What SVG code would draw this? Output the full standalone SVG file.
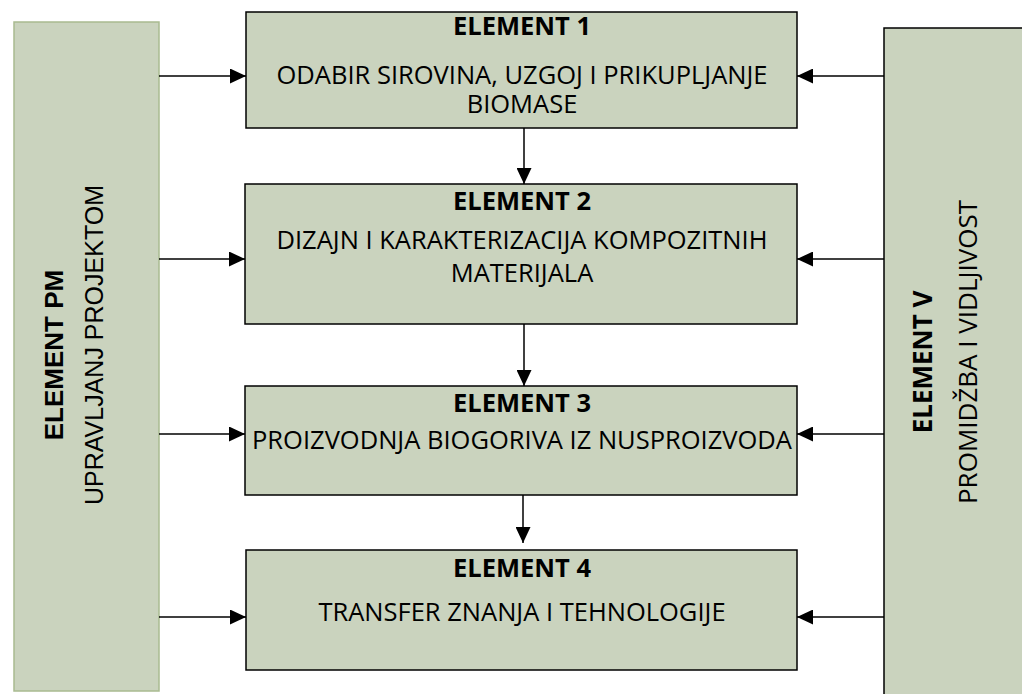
<svg xmlns="http://www.w3.org/2000/svg" width="1022" height="694" viewBox="0 0 1022 694">
<defs>
<marker id="arr" markerUnits="userSpaceOnUse" markerWidth="16" markerHeight="15" refX="16" refY="7.5" orient="auto">
<path d="M0,0 L16,7.5 L0,15 z" fill="#000"/>
</marker>
<style>
.box{fill:#cad3be;stroke:#000;stroke-width:1.5}
.side{fill:#cad3be;stroke:#a9bb90;stroke-width:1.5}
.t{font-family:"Open Sans","Liberation Sans",sans-serif;font-size:25.5px;fill:#000;text-anchor:middle}
.b{font-weight:bold}
.r{font-size:26px}
.a{font-family:"Liberation Sans",Arial,sans-serif;font-size:26px;fill:#000;text-anchor:middle}
.a2{font-size:25px}
.c{stroke:#000;stroke-width:1.5;fill:none;marker-end:url(#arr)}
</style>
</defs>
<rect width="1022" height="694" fill="#fff"/>
<g id="pm">
<rect class="side" x="14" y="22" width="145" height="669"/>
<text class="a b" transform="translate(63,355) rotate(-90)">ELEMENT PM</text>
<text class="a a2" transform="translate(103,345) rotate(-90)">UPRAVLJANJ PROJEKTOM</text>
</g>
<g id="v">
<rect class="box" x="884" y="28" width="150" height="680"/>
<text class="t b r" transform="translate(932,362) rotate(-90)">ELEMENT V</text>
<text class="t r" transform="translate(977,352) rotate(-90)">PROMIDŽBA I VIDLJIVOST</text>
</g>
<g id="e1">
<rect class="box" x="246" y="12" width="551" height="116"/>
<text class="t b" x="522" y="35">ELEMENT 1</text>
<text class="t" x="522" y="84">ODABIR SIROVINA, UZGOJ I PRIKUPLJANJE</text>
<text class="t" x="522" y="113">BIOMASE</text>
</g>
<g id="e2">
<rect class="box" x="245" y="184" width="552" height="140"/>
<text class="t b" x="522" y="210">ELEMENT 2</text>
<text class="t" x="522" y="249">DIZAJN I KARAKTERIZACIJA KOMPOZITNIH</text>
<text class="t" x="522" y="282">MATERIJALA</text>
</g>
<g id="e3">
<rect class="box" x="245" y="386" width="552" height="109"/>
<text class="t b" x="522" y="412">ELEMENT 3</text>
<text class="t" x="522" y="449">PROIZVODNJA BIOGORIVA IZ NUSPROIZVODA</text>
</g>
<g id="e4">
<rect class="box" x="246" y="550" width="551" height="120"/>
<text class="t b" x="522" y="577">ELEMENT 4</text>
<text class="t" x="522" y="621">TRANSFER ZNANJA I TEHNOLOGIJE</text>
</g>
<g id="connectors">
<line class="c" x1="159" y1="76" x2="246" y2="76"/>
<line class="c" x1="159" y1="259" x2="245" y2="259"/>
<line class="c" x1="159" y1="434" x2="245" y2="434"/>
<line class="c" x1="159" y1="617" x2="246" y2="617"/>
<line class="c" x1="884" y1="76" x2="797" y2="76"/>
<line class="c" x1="884" y1="259" x2="797" y2="259"/>
<line class="c" x1="884" y1="434" x2="797" y2="434"/>
<line class="c" x1="884" y1="617" x2="797" y2="617"/>
<line class="c" x1="524" y1="128" x2="524" y2="184"/>
<line class="c" x1="524" y1="324" x2="524" y2="386"/>
<line class="c" x1="523" y1="495" x2="523" y2="543"/>
</g>
</svg>
